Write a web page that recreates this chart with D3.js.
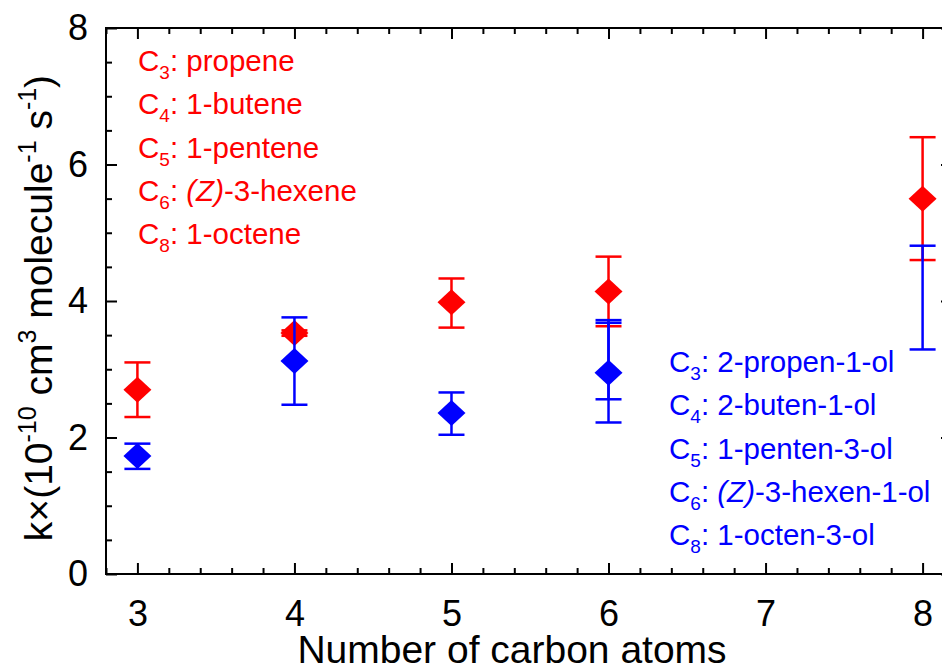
<!DOCTYPE html>
<html>
<head>
<meta charset="utf-8">
<script src="https://cdn.jsdelivr.net/npm/d3@7"></script>
<style>
  html, body { margin: 0; padding: 0; background: #fff; }
  svg { display: block; font-family: Arial, "Liberation Sans", sans-serif; }
</style>
</head>
<body>
<svg id="chart" width="942" height="668"></svg>
<script>
// ---------- data ----------
const xTickValues = [3, 4, 5, 6, 7, 8];
const yTickValues = [0, 2, 4, 6, 8];

// alkenes (red)
const alkeneCarbons = [3, 4, 5, 6, 8];
const alkeneK      = [2.70, 3.53, 3.98, 4.14, 5.50];
const alkeneLow    = [2.30, 3.49, 3.61, 3.63, 4.60];
const alkeneHigh   = [3.10, 3.57, 4.33, 4.65, 6.40];
const alkeneNames  = ["propene", "1-butene", "1-pentene", "(Z)-3-hexene", "1-octene"];

// alcohols (blue)
const alcoholCarbons = [3, 4, 5, 6];
const alcoholK       = [1.73, 3.12, 2.36, 2.95];
const alcoholErrCarbons = [3, 4, 5, 6, 6, 8];
const alcoholLow     = [1.54, 2.48, 2.04, 2.22, 2.56, 3.29];
const alcoholHigh    = [1.91, 3.76, 2.66, 3.72, 3.68, 4.81];
const alcoholNames   = ["2-propen-1-ol", "2-buten-1-ol", "1-penten-3-ol", "(Z)-3-hexen-1-ol", "1-octen-3-ol"];
const legendCarbons  = [3, 4, 5, 6, 8];

const RED = "#ff0000", BLUE = "#0000ff";

// ---------- layout ----------
const svg = d3.select("#chart");
const x = d3.scaleLinear().domain([2.8, 8.2]).range([106, 954]);
const y = d3.scaleLinear().domain([0, 8]).range([574, 28]);

const xMinor = d3.range(2.8, 8.2001, 0.2).map(v => +v.toFixed(1)).filter(v => !xTickValues.includes(v));
const yMinor = d3.range(0, 8.001, 0.5).filter(v => !yTickValues.includes(v));

function styleAxis(g) {
  g.select(".domain").remove();
  g.selectAll(".tick line").attr("stroke", "#000").attr("stroke-width", 2);
  g.selectAll(".tick text").attr("fill", "#000").attr("font-size", 36)
   .attr("font-family", "Arial, 'Liberation Sans', sans-serif");
}

// bottom
svg.append("g").attr("transform", `translate(0,${y(0)})`)
  .call(d3.axisBottom(x).tickValues(xTickValues).tickSize(-11).tickPadding(26).tickFormat(d3.format("d")))
  .call(styleAxis);
svg.append("g").attr("transform", `translate(0,${y(0)})`)
  .call(d3.axisBottom(x).tickValues(xMinor).tickSize(-6).tickFormat(""))
  .call(styleAxis);
// top
svg.append("g").attr("transform", `translate(0,${y(8)})`)
  .call(d3.axisTop(x).tickValues(xTickValues).tickSize(-11).tickFormat(""))
  .call(styleAxis);
svg.append("g").attr("transform", `translate(0,${y(8)})`)
  .call(d3.axisTop(x).tickValues(xMinor).tickSize(-6).tickFormat(""))
  .call(styleAxis);
// left
svg.append("g").attr("transform", `translate(${x(2.8)},0)`)
  .call(d3.axisLeft(y).tickValues(yTickValues).tickSize(-11).tickPadding(18).tickFormat(d3.format("d")))
  .call(styleAxis);
svg.append("g").attr("transform", `translate(${x(2.8)},0)`)
  .call(d3.axisLeft(y).tickValues(yMinor).tickSize(-6).tickFormat(""))
  .call(styleAxis);
// right
svg.append("g").attr("transform", `translate(${x(8.2)},0)`)
  .call(d3.axisRight(y).tickValues(yTickValues).tickSize(-13).tickFormat(""))
  .call(styleAxis);
svg.append("g").attr("transform", `translate(${x(8.2)},0)`)
  .call(d3.axisRight(y).tickValues(yMinor).tickSize(-7).tickFormat(""))
  .call(styleAxis);

// frame
svg.append("rect")
  .attr("x", x(2.8)).attr("y", y(8))
  .attr("width", x(8.2) - x(2.8)).attr("height", y(0) - y(8))
  .attr("fill", "none").attr("stroke", "#000").attr("stroke-width", 2);

// ---------- error bars + markers ----------
const capHalf = 13, dW = 14, dH = 13;
function errorBars(cs, lows, highs, color) {
  const g = svg.append("g").attr("stroke", color).attr("stroke-width", 2.5).attr("fill", "none");
  cs.forEach((c, i) => {
    const cx = x(c);
    g.append("line").attr("x1", cx).attr("x2", cx).attr("y1", y(lows[i])).attr("y2", y(highs[i]));
    g.append("line").attr("x1", cx - capHalf).attr("x2", cx + capHalf).attr("y1", y(lows[i])).attr("y2", y(lows[i]));
    g.append("line").attr("x1", cx - capHalf).attr("x2", cx + capHalf).attr("y1", y(highs[i])).attr("y2", y(highs[i]));
  });
}
function diamonds(cs, vals, color) {
  svg.append("g").selectAll("path").data(cs).join("path")
    .attr("d", (c, i) => {
      const cx = x(c), cy = y(vals[i]);
      return `M${cx},${cy - dH}L${cx + dW},${cy}L${cx},${cy + dH}L${cx - dW},${cy}Z`;
    })
    .attr("fill", color);
}
errorBars(alkeneCarbons, alkeneLow, alkeneHigh, RED);
diamonds(alkeneCarbons, alkeneK, RED);
errorBars(alcoholErrCarbons, alcoholLow, alcoholHigh, BLUE);
diamonds(alcoholCarbons, alcoholK, BLUE);

// ---------- legends ----------
function legend(x0, y0, names, color) {
  const g = svg.append("g").attr("fill", color).attr("font-size", 29.5);
  names.forEach((name, i) => {
    const t = g.append("text").attr("x", x0).attr("y", y0 + i * 43.3);
    t.append("tspan").text("C");
    t.append("tspan").attr("font-size", 19).attr("dy", 8).text(legendCarbons[i]);
    t.append("tspan").attr("dy", -8).text(": ");
    const m = name.match(/^\((Z)\)(.*)$/);
    if (m) {
      t.append("tspan").attr("font-style", "italic").text("(Z)");
      t.append("tspan").text(m[2]);
    } else {
      t.append("tspan").text(name);
    }
  });
}
legend(138, 71, alkeneNames, RED);
legend(669, 372, alcoholNames, BLUE);

// ---------- axis titles ----------
svg.append("text")
  .attr("x", 512).attr("y", 663)
  .attr("text-anchor", "middle").attr("font-size", 39).attr("fill", "#000")
  .text("Number of carbon atoms");

const yt = svg.append("text")
  .attr("transform", "translate(52,308) rotate(-90)")
  .attr("text-anchor", "middle").attr("font-size", 39).attr("fill", "#000");
yt.append("tspan").text("k×(10");
yt.append("tspan").attr("font-size", 25).attr("dy", -16).text("-10");
yt.append("tspan").attr("dy", 16).text(" cm");
yt.append("tspan").attr("font-size", 25).attr("dy", -16).text("3");
yt.append("tspan").attr("dy", 16).text(" molecule");
yt.append("tspan").attr("font-size", 25).attr("dy", -16).text("-1");
yt.append("tspan").attr("dy", 16).text(" s");
yt.append("tspan").attr("font-size", 25).attr("dy", -16).text("-1");
yt.append("tspan").attr("dy", 16).text(")");
</script>
</body>
</html>
